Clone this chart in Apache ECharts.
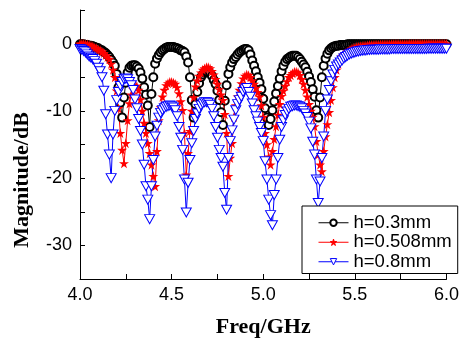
<!DOCTYPE html>
<html><head><meta charset="utf-8">
<script src="https://cdn.jsdelivr.net/npm/echarts@6/dist/echarts.min.js"></script>
<style>html,body{margin:0;padding:0;background:#fff}#c{width:462px;height:343px}</style>
</head><body><div id="c"></div>
<script>
// Frequency sampling grid (GHz)
var freqStart = 4.0, freqStep = 0.01, freqCount = 201;
var seriesNames = ['h=0.3mm', 'h=0.508mm', 'h=0.8mm'];
var xTicks = ['4.0', '4.5', '5.0', '5.5', '6.0'];
var yTicks = ['-30', '-20', '-10', '0'];
var xTitle = 'Freq/GHz';
var yTitle = 'Magnitude/dB';

var magH03 = [
-0.1,-0.1,-0.1,-0.2,-0.2,-0.3,-0.3,-0.4,-0.5,-0.6,
-0.7,-0.9,-1.0,-1.2,-1.4,-1.7,-2.0,-2.4,-2.8,-3.3,
-4.5,-6.5,-8.8,-11.0,-8.0,-5.8,-4.3,-3.6,-3.3,-3.2,
-3.2,-3.4,-3.7,-4.3,-5.2,-6.5,-7.6,-9.2,-12.4,-7.5,
-5.0,-3.0,-2.2,-1.7,-1.3,-1.0,-0.8,-0.6,-0.5,-0.5,
-0.5,-0.5,-0.6,-0.7,-0.8,-1.0,-1.1,-1.3,-1.9,-2.8,
-5.0,-8.4,-11.0,-9.0,-7.2,-5.9,-5.0,-4.6,-4.3,-4.2,
-4.2,-4.4,-4.8,-5.4,-6.0,-7.0,-8.4,-10.2,-12.1,-8.5,
-6.2,-4.5,-3.5,-2.8,-2.3,-2.0,-1.6,-1.3,-1.1,-0.9,
-0.8,-0.8,-1.0,-1.6,-2.5,-3.3,-4.1,-5.0,-5.8,-6.8,
-8.2,-9.6,-11.0,-12.1,-11.2,-9.9,-8.6,-7.4,-6.3,-5.2,
-4.1,-3.3,-2.7,-2.3,-2.1,-1.9,-1.8,-1.8,-1.8,-2.0,
-2.3,-2.7,-3.1,-3.5,-4.2,-4.9,-5.7,-6.8,-7.9,-9.9,
-11.0,-8.0,-5.0,-3.3,-2.2,-1.5,-1.0,-0.7,-0.5,-0.4,
-0.3,-0.3,-0.2,-0.2,-0.2,-0.2,-0.1,-0.1,-0.1,-0.1,
-0.1,-0.1,-0.1,-0.1,-0.1,-0.1,-0.1,-0.1,-0.1,-0.1,
-0.1,-0.1,-0.1,-0.1,-0.1,-0.1,-0.1,-0.1,-0.1,-0.1,
-0.1,-0.1,-0.1,-0.1,-0.1,-0.1,-0.1,-0.1,-0.1,-0.1,
-0.1,-0.1,-0.1,-0.1,-0.1,-0.1,-0.1,-0.1,-0.1,-0.1,
-0.1,-0.1,-0.1,-0.1,-0.1,-0.1,-0.1,-0.1,-0.1,-0.1,
-0.1];

var magH0508 = [
0.0,0.0,0.0,-0.1,-0.1,-0.2,-0.3,-0.4,-0.6,-0.7,
-0.9,-1.0,-1.2,-1.4,-1.7,-2.0,-2.3,-3.0,-3.9,-5.0,
-7.0,-9.6,-13.3,-15.8,-17.8,-14.8,-11.4,-8.9,-7.6,-6.8,
-6.3,-6.3,-6.9,-8.3,-10.0,-11.8,-13.3,-14.8,-16.3,-18.0,
-19.7,-21.2,-16.0,-11.4,-9.5,-7.9,-6.9,-6.2,-5.9,-5.7,
-5.7,-5.8,-6.0,-6.5,-7.4,-8.6,-9.9,-13.3,-19.5,-16.3,
-13.0,-10.0,-8.0,-6.4,-5.5,-4.8,-4.3,-3.9,-3.7,-3.5,
-3.5,-3.7,-4.1,-4.6,-5.3,-6.0,-6.8,-7.6,-8.4,-10.5,
-13.3,-19.7,-17.0,-14.8,-10.9,-9.2,-7.9,-6.9,-5.9,-5.2,
-4.8,-4.6,-4.7,-5.0,-5.5,-6.0,-6.6,-7.2,-7.9,-9.2,
-10.9,-13.3,-15.0,-16.8,-18.0,-16.0,-14.2,-12.3,-10.6,-9.0,
-7.8,-7.0,-6.3,-5.6,-5.0,-4.7,-4.4,-4.2,-4.2,-4.3,
-4.7,-5.3,-6.0,-6.9,-7.9,-9.0,-10.0,-10.9,-12.3,-14.5,
-16.5,-18.0,-19.0,-16.0,-13.8,-12.0,-10.2,-8.4,-6.5,-5.0,
-3.9,-3.0,-2.4,-1.9,-1.6,-1.4,-1.2,-1.0,-0.8,-0.7,
-0.6,-0.5,-0.45,-0.4,-0.35,-0.3,-0.3,-0.25,-0.2,-0.2,
-0.2,-0.15,-0.15,-0.15,-0.1,-0.1,-0.1,-0.1,-0.1,-0.1,
-0.05,-0.05,-0.05,-0.05,-0.05,-0.05,-0.05,-0.05,-0.05,-0.05,
0.0,0.0,0.0,0.0,0.0,0.0,0.0,0.0,0.0,0.0,
0.0,0.0,0.0,0.0,0.0,0.0,0.0,0.0,0.0,0.0,
0.0];

var magH08 = [
-0.8,-0.9,-1.1,-1.3,-1.6,-1.9,-2.1,-2.3,-2.6,-3.0,
-3.6,-4.1,-5.0,-7.0,-10.5,-13.5,-16.5,-20.0,-13.5,-10.0,
-8.4,-7.2,-6.3,-5.7,-5.3,-5.2,-5.3,-5.7,-6.2,-6.9,
-8.3,-9.6,-11.2,-13.0,-15.0,-18.0,-21.2,-23.2,-26.1,-21.2,
-17.3,-13.8,-12.2,-11.0,-10.3,-9.9,-9.6,-9.4,-9.3,-9.2,
-9.3,-9.5,-9.9,-10.8,-12.4,-14.0,-15.8,-20.2,-25.1,-20.7,
-17.3,-14.8,-13.0,-11.2,-10.4,-9.7,-9.2,-8.9,-8.7,-8.7,
-8.8,-9.1,-9.7,-10.8,-12.4,-14.0,-15.8,-17.0,-18.3,-22.2,
-24.7,-17.0,-14.5,-12.9,-11.3,-9.9,-9.0,-8.4,-7.9,-7.2,
-6.8,-6.6,-7.2,-7.9,-8.9,-9.9,-10.8,-11.6,-12.4,-13.3,
-14.5,-17.5,-20.2,-23.2,-25.5,-27.0,-22.5,-20.2,-17.0,-14.3,
-12.4,-11.4,-10.6,-10.1,-9.7,-9.4,-9.3,-9.2,-9.2,-9.3,
-9.4,-9.6,-10.0,-10.4,-10.9,-11.6,-12.6,-14.6,-16.5,-20.2,
-23.7,-20.5,-17.0,-13.8,-10.0,-8.3,-6.9,-5.6,-4.6,-3.9,
-3.4,-3.1,-2.8,-2.5,-2.2,-2.0,-1.8,-1.6,-1.5,-1.4,
-1.3,-1.2,-1.15,-1.1,-1.05,-1.0,-1.0,-0.95,-0.95,-0.9,
-0.9,-0.9,-0.9,-0.9,-0.85,-0.85,-0.85,-0.85,-0.85,-0.85,
-0.8,-0.8,-0.8,-0.8,-0.8,-0.8,-0.8,-0.8,-0.8,-0.8,
-0.8,-0.8,-0.8,-0.8,-0.8,-0.8,-0.8,-0.8,-0.8,-0.8,
-0.75,-0.75,-0.75,-0.75,-0.75,-0.75,-0.75,-0.75,-0.75,-0.75,
-0.75];

function pairs(vals) {
  var out = [];
  for (var i = 0; i < vals.length; i++) {
    out.push([+(freqStart + i * freqStep).toFixed(2), vals[i]]);
  }
  return out;
}

var starPath = 'path://M50,0 L61,35 L98,35 L68,57 L79,91 L50,70 L21,91 L32,57 L2,35 L39,35 Z';
var triDownPath = 'path://M0,0 L20,0 L10,17 Z';

var chart = echarts.init(document.getElementById('c'), null, {renderer: 'canvas'});
var axisFont = {fontFamily: 'Liberation Sans, Arial, sans-serif', fontSize: 18, color: '#000'};
var titleFont = {fontFamily: 'Liberation Serif, Times New Roman, serif', fontSize: 22, fontWeight: 'bold', color: '#000'};

chart.setOption({
  animation: false,
  backgroundColor: '#fff',
  grid: {left: 80, right: 14, top: 10, bottom: 63, containLabel: false},
  legend: {
    left: 302, top: 206,
    orient: 'vertical',
    data: seriesNames,
    itemWidth: 30, itemHeight: 8, itemGap: 0,
    backgroundColor: '#fff',
    borderColor: '#000', borderWidth: 1, borderRadius: 0,
    padding: [7, 6, 2, 16],
    itemStyle: {borderWidth: 1},
    lineStyle: {width: 1},
    textStyle: {fontFamily: 'Liberation Sans, Arial, sans-serif', fontSize: 18.5, color: '#000', lineHeight: 19.5}
  },
  graphic: [{
    type: 'text', x: 22, y: 180, rotation: Math.PI / 2,
    style: {text: yTitle, align: 'center', verticalAlign: 'middle',
      font: 'bold 22px "Liberation Serif", "Times New Roman", serif', fill: '#000'}
  }],
  xAxis: {
    type: 'value', min: 4.0, max: 6.0, interval: 0.25,
    name: xTitle, nameLocation: 'middle', nameGap: 37,
    nameTextStyle: titleFont,
    axisLine: {show: true, onZero: false, lineStyle: {color: '#000', width: 1}},
    axisTick: {show: true, inside: true, length: 5, lineStyle: {color: '#000'}},
    axisLabel: Object.assign({margin: 7, formatter: function (v) {
      var s = v.toFixed(1);
      return xTicks.indexOf(s) >= 0 && Math.abs(v * 2 - Math.round(v * 2)) < 1e-6 ? s : '';
    }}, axisFont),
    splitLine: {show: false}
  },
  yAxis: {
    type: 'value', min: -35, max: 5, interval: 5,
    axisLine: {show: true, onZero: false, lineStyle: {color: '#000', width: 1}},
    axisTick: {show: true, inside: true, length: 5, lineStyle: {color: '#000'}},
    axisLabel: Object.assign({margin: 8, formatter: function (v) {
      var s = String(v);
      return yTicks.indexOf(s) >= 0 ? s : '';
    }}, axisFont),
    splitLine: {show: false}
  },
  series: [
    {
      name: seriesNames[0], type: 'line', data: pairs(magH03),
      symbol: 'emptyCircle', symbolSize: 8, showAllSymbol: true,
      lineStyle: {color: '#000', width: 1},
      itemStyle: {color: '#000', borderColor: '#000', borderWidth: 1}
    },
    {
      name: seriesNames[1], type: 'line', data: pairs(magH0508),
      symbol: starPath, symbolSize: 10, showAllSymbol: true,
      lineStyle: {color: '#ff0000', width: 1},
      itemStyle: {color: '#ff0000', borderColor: '#ff0000', borderWidth: 0}
    },
    {
      name: seriesNames[2], type: 'line', data: pairs(magH08),
      symbol: triDownPath, symbolSize: [10, 9], showAllSymbol: true,
      lineStyle: {color: '#0000ff', width: 1},
      itemStyle: {color: '#ffffff', borderColor: '#0000ff', borderWidth: 1}
    }
  ]
});
</script></body></html>
